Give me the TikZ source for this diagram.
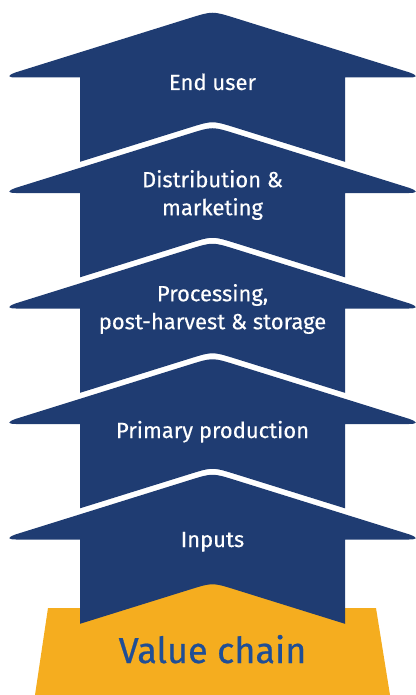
\documentclass[tikz,border=0pt]{standalone}
\usepackage{fontspec}
\setmainfont{Fira Sans}
\newfontfamily\stagefont[FakeBold=0.3]{Fira Sans}
\newfontfamily\vcfont[FakeBold=0.6]{Fira Sans}
\definecolor{ecnavy}{RGB}{31,60,114}
\definecolor{ecorange}{RGB}{245,173,31}
\definecolor{ectitle}{RGB}{31,78,150}
\tikzset{
  x=1pt, y=-1pt,
  stagetext/.style={text=white, font=\stagefont\fontsize{22}{28}\selectfont, align=center, inner sep=0pt},
  % one upward arrow of the chain, apex at the local origin row
  vcarrow/.pic={
    \fill[ecnavy]
      (80,150.8) -- (80,66.5) -- (16,66.5)
      .. controls (8,66.5) and (6,64.8) .. (16,61.3)
      -- (190,7) .. controls (212.5,0) .. (235,7)
      -- (409,61.3) .. controls (419,64.8) and (417,66.5) .. (409,66.5)
      -- (345,66.5) -- (345,150.8)
      -- (235,116.5) .. controls (212.5,109.5) .. (190,116.5) -- cycle;
  }
}
\begin{document}
\begin{tikzpicture}
\useasboundingbox (0,0) rectangle (415,695);

% base block
\fill[ecorange] (35,695) -- (48,608) -- (376,608) -- (390,695) -- cycle;
\fill[ecorange] (80,623.8) -- (80,620) -- (190,588) .. controls (212.5,581) .. (235,588)
  -- (345,620) -- (345,623.8) -- cycle;

% stacked stages
\pic at (0,11)    {vcarrow};
\pic at (0,126.5) {vcarrow};
\pic at (0,242)   {vcarrow};
\pic at (0,357.5) {vcarrow};
\pic at (0,473)   {vcarrow};

\node[stagetext, anchor=base] (enduser) at (212.5,90) {End user};
\node[stagetext] (distrib) at (212.5,195) {Distribution \&\\marketing};
\node[stagetext] (process) at (212.5,309) {Processing,\\post-harvest \& storage};
\node[stagetext, anchor=base] (primary) at (212.5,438) {Primary production};
\node[stagetext, anchor=base] (inputs) at (212.5,547) {Inputs};
\node[text=ectitle, font=\vcfont\fontsize{36}{40}\selectfont, anchor=base, inner sep=0pt] (chain) at (212.5,663) {Value chain};
\end{tikzpicture}
\end{document}
